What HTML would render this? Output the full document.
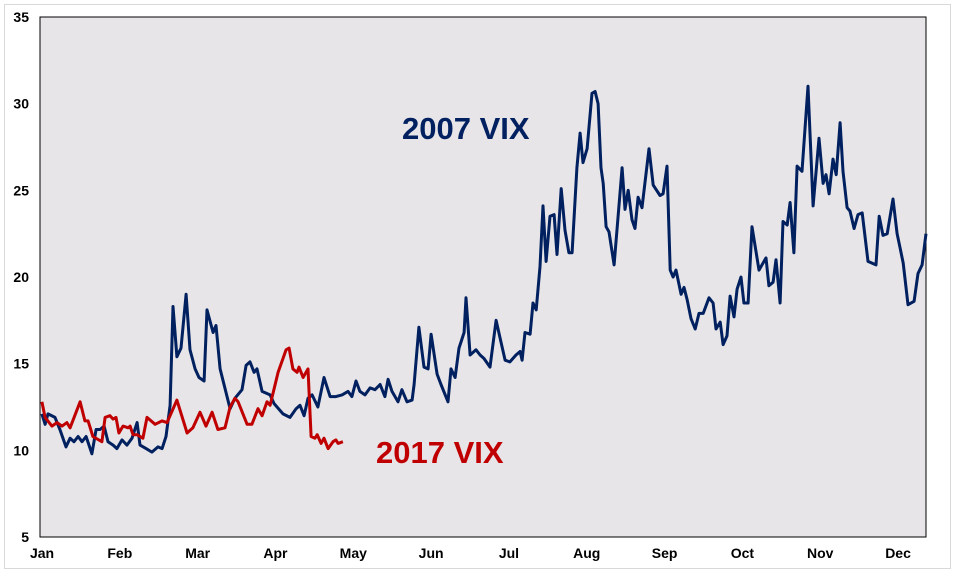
<!DOCTYPE html>
<html><head><meta charset="utf-8"><style>
html,body{margin:0;padding:0;background:#fff;}
svg text{font-family:"Liberation Sans",Arial,sans-serif;}
</style></head><body>
<svg id="chart" width="956" height="574" xmlns="http://www.w3.org/2000/svg">
<rect x="4.5" y="4.5" width="946" height="564" fill="#fff" stroke="#d9d9d9"/>
<rect x="40" y="17" width="886" height="520" fill="#e7e5e7" stroke="#000" stroke-width="1"/>
<g id="yaxis"></g>
<g id="xaxis"></g>
<g id="series"></g>
<text x="402" y="139" font-size="31" font-weight="bold" fill="#002060">2007 VIX</text>
<text x="376" y="463" font-size="31" font-weight="bold" fill="#c00000">2017 VIX</text>
</svg>
<script>
const yTicks=[5,10,15,20,25,30,35];
const monthLabels=["Jan","Feb","Mar","Apr","May","Jun","Jul","Aug","Sep","Oct","Nov","Dec"];
const monthTickDays=[0,32.06,64.12,96.18,128.24,160.3,192.36,224.42,256.48,288.54,320.6,352.66];
const days2007=[0.8,2.1,3.3,6.2,8.2,10.7,12.4,14.0,15.7,17.3,19.0,21.4,23.1,24.7,26.4,28.0,30.1,31.7,33.8,35.8,37.9,40.0,41.2,43.7,46.1,48.6,50.3,51.9,53.6,54.8,56.4,58.1,60.2,61.8,63.9,65.5,67.6,68.8,71.3,72.5,74.2,78.3,80.3,83.2,84.9,86.5,88.2,89.4,91.5,94.8,96.4,100.1,103.0,105.5,107.1,108.8,110.4,112.1,114.5,117.0,119.5,121.9,124.4,126.9,128.5,130.2,131.8,133.9,136.0,138.0,140.1,142.1,143.4,145.0,147.5,149.1,151.2,153.3,154.1,156.1,158.2,159.9,161.1,163.6,165.2,168.1,169.3,171.0,172.6,174.7,175.5,177.2,179.6,181.3,182.9,185.4,187.9,189.5,191.6,193.6,196.1,197.8,198.6,199.8,201.9,203.1,204.4,206.0,207.2,208.5,210.1,211.8,213.0,214.7,216.3,217.9,219.2,221.2,222.5,223.7,225.4,227.4,228.7,229.9,231.1,232.0,233.2,234.4,236.5,239.8,241.0,242.3,243.9,245.1,246.4,248.0,250.9,252.6,255.4,256.7,258.3,259.6,260.8,262.0,264.1,265.3,266.6,268.2,269.9,271.5,273.2,275.6,277.3,278.5,280.2,281.4,283.0,284.3,285.9,287.2,288.8,290.0,291.7,293.3,296.2,299.1,300.3,302.0,303.2,304.9,306.1,307.8,309.0,310.6,311.9,313.9,316.4,318.5,320.9,322.6,323.8,325.1,326.7,328.0,329.6,330.8,332.5,333.7,335.4,337.0,338.7,341.1,344.4,345.7,347.3,349.0,351.4,353.1,354.3,355.6,357.6,360.1,361.7,363.4,365.0];
const vix2007=[12.1,11.5,12.1,11.9,11.2,10.2,10.7,10.5,10.8,10.5,10.8,9.8,11.2,11.2,11.4,10.5,10.3,10.1,10.6,10.3,10.7,11.6,10.3,10.1,9.9,10.2,10.1,10.8,12.6,18.3,15.4,15.9,19.0,15.8,14.7,14.2,14.0,18.1,16.8,17.2,14.7,12.4,13.0,13.5,14.9,15.1,14.5,14.7,13.4,13.2,12.7,12.1,11.9,12.4,12.6,12.0,13.0,13.2,12.5,14.2,13.1,13.1,13.2,13.4,13.1,14.0,13.4,13.2,13.6,13.5,13.8,13.1,14.1,13.4,12.8,13.5,12.8,12.9,13.8,17.1,14.8,14.7,16.7,14.4,13.8,12.8,14.7,14.2,15.9,16.8,18.8,15.5,15.8,15.5,15.3,14.8,17.5,16.5,15.2,15.1,15.5,15.7,15.2,16.8,16.7,18.5,18.1,20.6,24.1,20.9,23.5,23.6,21.3,25.1,22.7,21.4,21.4,26.3,28.3,26.6,27.4,30.6,30.7,30.0,26.3,25.4,22.9,22.6,20.7,26.3,23.9,25.0,23.3,22.8,24.6,24.0,27.4,25.3,24.7,24.8,26.4,20.4,20.0,20.4,19.0,19.4,18.7,17.6,17.0,17.9,17.9,18.8,18.5,17.0,17.4,16.1,16.6,18.9,17.7,19.3,20.0,18.5,18.5,22.9,20.4,21.1,19.5,19.7,21.0,18.5,23.2,23.0,24.3,21.4,26.4,26.1,31.0,24.1,28.0,25.4,25.9,24.8,26.8,25.9,28.9,26.1,24.0,23.8,22.8,23.6,23.7,20.9,20.7,23.5,22.4,22.5,24.5,22.5,21.7,20.8,18.4,18.6,20.2,20.7,22.5];
const days2017=[0.8,2.1,4.9,7.0,9.1,11.1,12.4,16.5,18.5,19.8,21.8,25.5,26.8,28.8,30.1,31.3,32.5,34.2,36.3,37.1,38.3,40.0,42.4,44.1,47.4,50.3,52.3,56.4,60.6,63.0,65.9,68.4,70.9,73.3,76.2,78.3,80.3,81.6,85.3,87.3,89.8,91.5,93.5,94.8,98.1,101.4,102.6,104.2,105.9,106.7,108.4,110.4,111.7,113.3,114.2,115.8,117.0,118.7,120.7,121.9,122.8,124.8];
const vix2017=[12.8,11.9,11.4,11.6,11.4,11.6,11.3,12.8,11.7,11.7,10.8,10.5,11.9,12.0,11.8,11.9,11.0,11.4,11.3,11.4,10.9,10.9,10.7,11.9,11.5,11.7,11.6,12.9,11.0,11.3,12.2,11.4,12.2,11.2,11.3,12.5,13.0,12.8,11.5,11.5,12.4,12.0,12.8,12.6,14.5,15.8,15.9,14.7,14.5,14.8,14.2,14.7,10.8,10.7,10.9,10.4,10.7,10.1,10.5,10.6,10.4,10.5];

const X0=40,X1=926,Y0=537,Y1=17;
const xScale=d=>X0+(d/365)*(X1-X0);
const yScale=v=>Y0-(v-5)/30*(Y0-Y1);
const NS="http://www.w3.org/2000/svg";
const yg=document.getElementById('yaxis'),xg=document.getElementById('xaxis'),sg=document.getElementById('series');
yTicks.forEach(t=>{
  const tx=document.createElementNS(NS,'text');
  
  
  tx.setAttribute('x',29);tx.setAttribute('y',yScale(t)+5);
  tx.setAttribute('text-anchor','end');tx.setAttribute('font-size','14');tx.setAttribute('font-weight','bold');
  tx.textContent=t;yg.appendChild(tx);
});
monthLabels.forEach((m,i)=>{
  const tx=document.createElementNS(NS,'text');
  
  
  tx.setAttribute('x',xScale(monthTickDays[i])+2);tx.setAttribute('y',558);
  tx.setAttribute('text-anchor','middle');tx.setAttribute('font-size','14');tx.setAttribute('font-weight','bold');
  tx.textContent=m;xg.appendChild(tx);
});
function line(days,vals,color,name){
  const p=document.createElementNS(NS,'polyline');
  
  
  p.setAttribute('points',days.map((d,i)=>xScale(d).toFixed(1)+','+yScale(vals[i]).toFixed(1)).join(' '));
  p.setAttribute('fill','none');p.setAttribute('stroke',color);p.setAttribute('stroke-width','3');p.setAttribute('stroke-linejoin','round');
  sg.appendChild(p);
}
line(days2007,vix2007,'#002060','line-2007-vix');
line(days2017,vix2017,'#c00000','line-2017-vix');
</script>
</body></html>
